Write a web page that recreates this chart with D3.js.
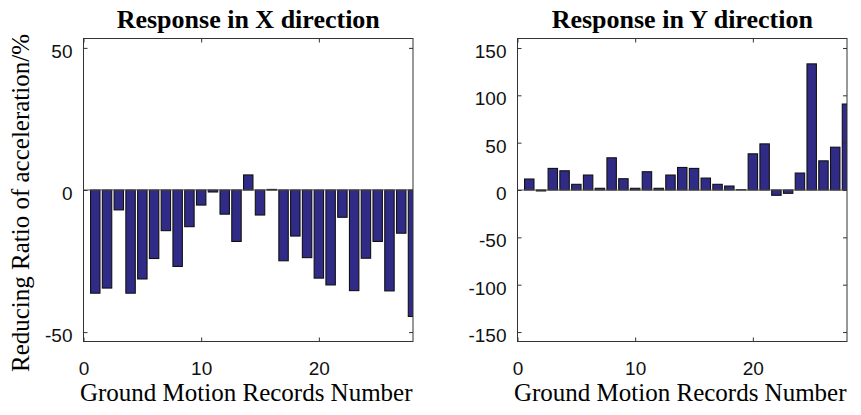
<!DOCTYPE html>
<html>
<head>
<meta charset="utf-8">
<script src="https://cdn.jsdelivr.net/npm/d3@7"></script>
<style>
  body { margin: 0; background: #fff; }
  svg { display: block; }
</style>
</head>
<body>
<div class="chart"></div>
<script>
// record numbers 1..28
var records = [1, 2, 3, 4, 5, 6, 7, 8, 9, 10, 11, 12, 13, 14,
               15, 16, 17, 18, 19, 20, 21, 22, 23, 24, 25, 26, 27, 28];

// reducing ratio (%)
var xDirection = [-36.3, -34.5, -7.0, -36.3, -31.3, -24.1, -14.3, -26.9, -12.9, -5.3,
                  -0.7, -8.5, -18.1, 5.3, -8.8, 0.2, -24.9, -16.2, -23.8, -31.0,
                  -33.4, -9.6, -35.4, -24.0, -18.1, -35.5, -15.2, -44.5];
var yDirection = [11.6, -1.0, 22.8, 20.3, 6.0, 15.8, 1.8, 34.0, 11.9, 1.8,
                  19.3, 1.8, 15.8, 23.8, 22.8, 12.6, 6.0, 4.2, 0.3, 38.2,
                  48.7, -5.6, -3.5, 17.9, 133.2, 30.8, 45.2, 90.8];

var xTicks = [0, 10, 20];
var xTicksY = [-50, 0, 50];
var yTicksY = [-150, -100, -50, 0, 50, 100, 150];

var panels = [
    { title: 'Response in X direction', values: xDirection, ticks: xTicksY, lim: 53.3, left: 83.5 },
    { title: 'Response in Y direction', values: yDirection, ticks: yTicksY, lim: 160, left: 517.5 }
];

var W = 861, H = 415;
var plotTop = 38.5, plotBottom = 341.5, plotW = 329.5;

var svg = d3.select('.chart')
    .append('svg')
    .attr('width', W)
    .attr('height', H);

// plain hyphen minus like matlab, not the unicode minus
var fmt = d => String(d);

panels.forEach(function (p, i) {
    var g = svg.append('g')
        .attr('transform', `translate(${p.left},0)`);

    var xScale = d3.scaleLinear().domain([0, 28]).range([0, plotW]);
    var yScale = d3.scaleLinear().domain([-p.lim, p.lim]).range([plotBottom, plotTop]);

    g.append('clipPath').attr('id', 'clip' + i)
        .append('rect')
        .attr('x', 0).attr('y', plotTop)
        .attr('width', plotW).attr('height', plotBottom - plotTop);

    var bars = g.append('g').attr('clip-path', `url(#clip${i})`);

    bars.selectAll('rect')
        .data(records)
        .enter()
        .append('rect')
        .attr('x', d => xScale(d - 0.4))
        .attr('width', xScale(0.8) - xScale(0))
        .attr('y', (d, k) => yScale(Math.max(0, p.values[k])))
        .attr('height', (d, k) => Math.abs(yScale(p.values[k]) - yScale(0)))
        .style('fill', '#302b87')
        .style('stroke', '#111')
        .style('stroke-width', 1.1);

    // baseline
    g.append('line')
        .attr('x1', 0).attr('x2', plotW)
        .attr('y1', yScale(0)).attr('y2', yScale(0))
        .style('stroke', '#555')
        .style('stroke-width', 1);

    // axes, ticks pointing inward
    var yAxis = d3.axisLeft(yScale).tickValues(p.ticks).tickFormat(fmt).tickSize(-4).tickSizeOuter(0).tickPadding(11);
    var yAxisR = d3.axisRight(yScale).tickValues(p.ticks).tickSize(-4).tickSizeOuter(0).tickFormat('');
    var xAxis = d3.axisBottom(xScale).tickValues(xTicks).tickFormat(fmt).tickSize(-4).tickSizeOuter(0).tickPadding(20);
    var xAxisT = d3.axisTop(xScale).tickValues(xTicks).tickSize(-4).tickSizeOuter(0).tickFormat('');

    var ya = g.append('g').call(yAxis);
    ya.selectAll('text').attr('dy', '0.5em');
    g.append('g').attr('transform', `translate(${plotW},0)`).call(yAxisR);
    g.append('g').attr('transform', `translate(0,${plotBottom})`).call(xAxis);
    g.append('g').attr('transform', `translate(0,${plotTop})`).call(xAxisT);

    g.selectAll('.tick line').style('stroke', '#333');
    g.selectAll('.domain').remove();
    g.selectAll('.tick text')
        .style('font-family', '"Liberation Sans", Arial, sans-serif')
        .style('font-size', '19px')
        .style('fill', '#111');

    // box
    g.append('rect')
        .attr('x', 0).attr('y', plotTop)
        .attr('width', plotW).attr('height', plotBottom - plotTop)
        .style('fill', 'none')
        .style('stroke', '#333')
        .style('stroke-width', 1);

    g.append('text')
        .attr('x', plotW / 2).attr('y', 28)
        .attr('text-anchor', 'middle')
        .style('font-family', '"Liberation Serif", "Times New Roman", serif')
        .style('font-weight', 'bold')
        .style('font-size', '26px')
        .text(p.title);

    g.append('text')
        .attr('x', plotW / 2 - 2).attr('y', 401)
        .attr('text-anchor', 'middle')
        .style('font-family', '"Liberation Serif", "Times New Roman", serif')
        .style('font-size', '25px')
        .text('Ground Motion Records Number');
});

svg.append('text')
    .attr('transform', 'translate(29,203) rotate(-90)')
    .attr('text-anchor', 'middle')
    .style('font-family', '"Liberation Serif", "Times New Roman", serif')
    .style('font-size', '25px')
    .text('Reducing Ratio of acceleration/%');
</script>
</body>
</html>
